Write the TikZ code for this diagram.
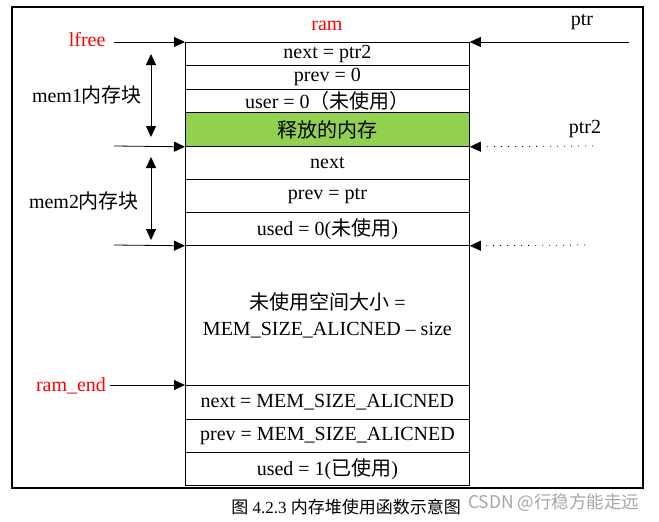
\documentclass[tikz,border=0pt]{standalone}
\usepackage{fontspec}
\setmainfont{Liberation Serif}
\newfontfamily\cjk{Noto Sans CJK SC}
\usetikzlibrary{arrows.meta}
\definecolor{freegreen}{RGB}{146,208,80}
\tikzset{
  cell/.style={draw, line width=0.8pt, minimum width=284pt, inner sep=0pt,
    anchor=north west, align=center, font=\fontsize{20}{26}\selectfont},
  lbl/.style={font=\fontsize{20}{22}\selectfont},
  ptrarrow/.style={-{Triangle[length=11pt,width=10pt]}, line width=0.8pt},
  freearrow/.style={ptrarrow, dash pattern=on 1pt off 6pt},
  span/.style={{Triangle[length=11pt,width=10pt]}-{Triangle[length=11pt,width=10pt]}, line width=0.8pt}
}
\begin{document}
\begin{tikzpicture}[x=1pt,y=-1pt]
    \useasboundingbox (0,0) rectangle (659,522);
    % frame
    \draw[line width=2.5pt] (12,7) rectangle (643,488);

    % mem1
    \node[cell, minimum height=23pt] (next1) at (185,42) {next = ptr2};
    \node[cell, minimum height=24pt] (prev1) at (185,65) {prev = 0};
    \node[cell, minimum height=23pt] (used1) at (185,89) {user = 0{\cjk （未使用）}};
    \node[cell, minimum height=34pt, fill=freegreen] (freed) at (185,112) {\cjk 释放的内存};

    % mem2
    \node[cell, minimum height=33pt] (next2) at (185,146) {next};
    \node[cell, minimum height=33pt] (prev2) at (185,179) {prev = ptr};
    \node[cell, minimum height=33pt] (used2) at (185,212) {used = 0({\cjk 未使用})};

    % unused space
    \node[cell, minimum height=140pt] (unused) at (185,245)
        {{\cjk 未使用空间大小} =\\MEM\_SIZE\_ALICNED -- size};

    % ram_end
    \node[cell, minimum height=34pt] (nextend) at (185,385) {next = MEM\_SIZE\_ALICNED};
    \node[cell, minimum height=33pt] (prevend) at (185,419) {prev = MEM\_SIZE\_ALICNED};
    \node[cell, minimum height=33pt] (usedend) at (185,452) {used = 1({\cjk 已使用})};

    % left side
    \node[lbl, red] (ram) at (327,26) {ram};
    \node[lbl, red, anchor=east] (lfree) at (109,40) {lfree};
    \node[lbl, red] (ramend) at (71,386) {ram\_end};
    \node[lbl] (mem1) at (87,95) {mem1{\cjk 内存块}};
    \node[lbl] (mem2) at (84,201) {mem2{\cjk 内存块}};
    \coordinate (lf) at (114,42);
    \coordinate (m1end) at (114,146);
    \coordinate (m2end) at (114,245);
    \coordinate (re) at (110,385);
    \draw[ptrarrow] (lf) -- (next1.north west);
    \draw[ptrarrow] (m1end) -- (freed.south west);
    \draw[ptrarrow] (m2end) -- (used2.south west);
    \draw[ptrarrow] (re) -- (nextend.north west);
    \coordinate (m1top) at (151,54);
    \coordinate (m1bot) at (151,137);
    \coordinate (m2top) at (151,157);
    \coordinate (m2bot) at (151,240);
    \draw[span] (m1top) -- (m1bot);
    \draw[span] (m2top) -- (m2bot);

    % right side
    \node[lbl] (ptr) at (582,22) {ptr};
    \node[lbl] (ptrtwo) at (585,129) {ptr2};
    \coordinate (p1) at (629,42);
    \coordinate (p2) at (593,146);
    \coordinate (p3) at (585,245);
    \draw[ptrarrow] (p1) -- (next1.north east);
    \draw[freearrow] (p2) -- (freed.south east);
    \draw[freearrow] (p3) -- (used2.south east);

    % caption
    \node[font=\fontsize{17}{18}\selectfont] (cap) at (346,507) {{\cjk 图} 4.2.3 {\cjk 内存堆使用函数示意图}};
    \node[anchor=east, text=black!35, font=\cjk\fontsize{17.5}{20}\selectfont] (mark) at (643,503) {CSDN @行稳方能走远};
\end{tikzpicture}
\end{document}
